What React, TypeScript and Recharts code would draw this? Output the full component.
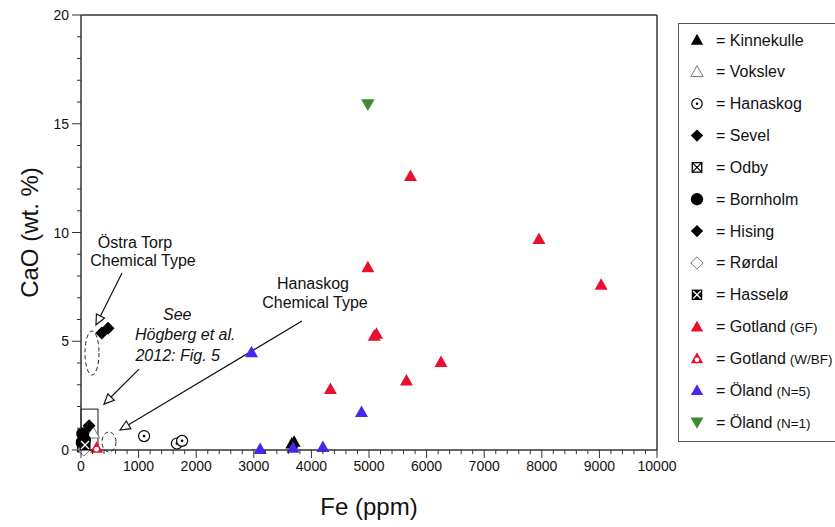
import React from 'react';
import {
  ScatterChart,
  Scatter,
  XAxis,
  YAxis,
  ReferenceArea,
  ReferenceLine,
  ReferenceDot,
  Label,
} from 'recharts';

// Fe (ppm), CaO (wt. %)
const kinnekulle: [number, number][] = [[3660, 0.3], [3700, 0.38]];
const vokslev: [number, number][] = [[210, 0.78]];
const hanaskog: [number, number][] = [[1095, 0.64], [1665, 0.3], [1755, 0.42]];
const sevel: [number, number][] = [[360, 5.38], [470, 5.6]];
const odby: [number, number][] = [[30, 0.15]];
const bornholm: [number, number][] = [[30, 0.75], [60, 0.45], [20, 0.35]];
const hising: [number, number][] = [[140, 1.12]];
const rordal: [number, number][] = [[50, 0.02]];
const hasselo: [number, number][] = [[70, 0.23]];
const gotlandGF: [number, number][] = [
  [5720, 12.6], [7950, 9.7], [9030, 7.6], [4980, 8.4], [5090, 5.25],
  [5130, 5.35], [6250, 4.05], [5650, 3.2], [4330, 2.8],
];
const gotlandWBF: [number, number][] = [[270, 0.1]];
const olandN5: [number, number][] = [
  [2960, 4.5], [4870, 1.75], [3110, 0.05], [3680, 0.1], [4200, 0.14],
];
const olandN1: [number, number][] = [[4980, 15.9]];

const xMajor = [0, 1000, 2000, 3000, 4000, 5000, 6000, 7000, 8000, 9000, 10000];
const yMajor = [0, 5, 10, 15, 20];
const xMinor = xMajor.slice(0, -1).flatMap((v) => [v, v + 200, v + 400, v + 600, v + 800]).concat([10000]);
const yMinor = yMajor.slice(0, -1).flatMap((v) => [v, v + 1, v + 2, v + 3, v + 4]).concat([20]);

type Kind =
  | 'tri' | 'triOpen' | 'triDown' | 'triHollow' | 'circDot' | 'diamond'
  | 'diamondOpen' | 'boxX' | 'boxXFill' | 'circle';

const RED = '#e8102c';
const BLUE = '#4a25f0';
const GREEN = '#3c8c2c';
const FONT = '"Liberation Sans", Arial, Helvetica, sans-serif';

const series: { name: string; sub?: string; data: [number, number][]; kind: Kind; color: string }[] = [
  { name: 'Kinnekulle', data: kinnekulle, kind: 'tri', color: '#000' },
  { name: 'Vokslev', data: vokslev, kind: 'triOpen', color: '#777' },
  { name: 'Hanaskog', data: hanaskog, kind: 'circDot', color: '#000' },
  { name: 'Sevel', data: sevel, kind: 'diamond', color: '#000' },
  { name: 'Odby', data: odby, kind: 'boxX', color: '#000' },
  { name: 'Bornholm', data: bornholm, kind: 'circle', color: '#000' },
  { name: 'Hising', data: hising, kind: 'diamond', color: '#000' },
  { name: 'Rørdal', data: rordal, kind: 'diamondOpen', color: '#777' },
  { name: 'Hasselø', data: hasselo, kind: 'boxXFill', color: '#000' },
  { name: 'Gotland', sub: '(GF)', data: gotlandGF, kind: 'tri', color: RED },
  { name: 'Gotland', sub: '(W/BF)', data: gotlandWBF, kind: 'triHollow', color: RED },
  { name: 'Öland', sub: '(N=5)', data: olandN5, kind: 'tri', color: BLUE },
  { name: 'Öland', sub: '(N=1)', data: olandN1, kind: 'triDown', color: GREEN },
];

function Marker({ kind, color, cx, cy, s = 1 }: { kind: Kind; color: string; cx: number; cy: number; s?: number }) {
  const a = 6.5 * s;
  const b = 5 * s;
  switch (kind) {
    case 'tri':
      return <polygon points={`${cx},${cy - a} ${cx - a},${cy + b} ${cx + a},${cy + b}`} fill={color} />;
    case 'triOpen':
      return (
        <polygon points={`${cx},${cy - a} ${cx - a},${cy + b} ${cx + a},${cy + b}`} fill="#fff" stroke={color} strokeWidth={1} />
      );
    case 'triHollow':
      return (
        <g>
          <polygon points={`${cx},${cy - a} ${cx - a},${cy + b} ${cx + a},${cy + b}`} fill={color} />
          <circle cx={cx} cy={cy + 1.3 * s} r={2.4 * s} fill="#fff" />
        </g>
      );
    case 'triDown':
      return <polygon points={`${cx - a * 1.05},${cy - b} ${cx + a * 1.05},${cy - b} ${cx},${cy + a * 1.05}`} fill={color} />;
    case 'circDot':
      return (
        <g>
          <circle cx={cx} cy={cy} r={5.5 * s} fill="#fff" stroke={color} strokeWidth={1.2} />
          <circle cx={cx} cy={cy} r={1.3 * s} fill={color} />
        </g>
      );
    case 'diamond':
      return <polygon points={`${cx},${cy - a} ${cx + a},${cy} ${cx},${cy + a} ${cx - a},${cy}`} fill={color} />;
    case 'diamondOpen':
      return (
        <polygon points={`${cx},${cy - a} ${cx + a},${cy} ${cx},${cy + a} ${cx - a},${cy}`} fill="#fff" stroke={color} strokeWidth={1} />
      );
    case 'boxX': {
      const h = 5 * s;
      return (
        <g stroke={color} strokeWidth={1.3} fill="#fff">
          <rect x={cx - h} y={cy - h} width={2 * h} height={2 * h} />
          <line x1={cx - h} y1={cy - h} x2={cx + h} y2={cy + h} />
          <line x1={cx + h} y1={cy - h} x2={cx - h} y2={cy + h} />
        </g>
      );
    }
    case 'boxXFill': {
      const h = 5.5 * s;
      return (
        <g>
          <rect x={cx - h} y={cy - h} width={2 * h} height={2 * h} fill={color} />
          <line x1={cx - h + 1.5} y1={cy - h + 1.5} x2={cx + h - 1.5} y2={cy + h - 1.5} stroke="#fff" strokeWidth={1.3} />
          <line x1={cx + h - 1.5} y1={cy - h + 1.5} x2={cx - h + 1.5} y2={cy + h - 1.5} stroke="#fff" strokeWidth={1.3} />
        </g>
      );
    }
    case 'circle':
    default:
      return <circle cx={cx} cy={cy} r={6.5 * s} fill={color} />;
  }
}

// annotation texts: anchor = centre of first line baseline (data units), dx per line in px
const notes = [
  { x: 1076, y: 9.29, italic: false, lineH: 18.5, lines: [{ t: 'Östra Torp', dx: -8 }, { t: 'Chemical Type', dx: 0 }] },
  { x: 1670, y: 6.0, italic: true, lineH: 20.5, lines: [{ t: 'See', dx: 0 }, { t: 'Högberg et al.', dx: 8 }, { t: '2012: Fig. 5', dx: 0.5 }] },
  { x: 4045, y: 7.4, italic: false, lineH: 19, lines: [{ t: 'Hanaskog', dx: -1 }, { t: 'Chemical Type', dx: 1 }] },
];

const arrows = [
  { from: { x: 712, y: 8.14 }, to: { x: 260, y: 5.75 } },
  { from: { x: 1007, y: 3.72 }, to: { x: 399, y: 2.11 } },
  { from: { x: 3837, y: 5.93 }, to: { x: 677, y: 0.92 } },
];

const ellipses = [
  { x: 191, y: 4.46, rx: 7, ry: 22 },
  { x: 486, y: 0.37, rx: 7, ry: 10 },
];

function Arrow(p: any) {
  const { x1, y1, x2, y2 } = p;
  const len = Math.hypot(x2 - x1, y2 - y1);
  const ux = (x2 - x1) / len;
  const uy = (y2 - y1) / len;
  const hl = 10;
  const hw = 4.5;
  const bx = x2 - ux * hl;
  const by = y2 - uy * hl;
  return (
    <g>
      <line x1={x1} y1={y1} x2={bx} y2={by} stroke="#111" strokeWidth={1.2} />
      <polygon
        points={`${x2},${y2} ${bx - uy * hw},${by + ux * hw} ${bx + uy * hw},${by - ux * hw}`}
        fill="#fff"
        stroke="#111"
        strokeWidth={1.2}
      />
    </g>
  );
}

function XTick(props: any) {
  const { x, y, payload } = props;
  const major = xMajor.includes(payload.value);
  return (
    <g>
      <line x1={x} y1={y} x2={x} y2={y + (major ? 8 : 4)} stroke="#333" strokeWidth={1} />
      {major && (
        <text x={x} y={y + 21} textAnchor="middle" fontSize={14} fontFamily={FONT} fill="#111">
          {payload.value}
        </text>
      )}
    </g>
  );
}

function YTick(props: any) {
  const { x, y, payload } = props;
  const major = yMajor.includes(payload.value);
  return (
    <g>
      <line x1={x} y1={y} x2={x - (major ? 9 : 4)} y2={y} stroke="#333" strokeWidth={1} />
      {major && (
        <text x={x - 12} y={y + 5} textAnchor="end" fontSize={14} fontFamily={FONT} fill="#111">
          {payload.value}
        </text>
      )}
    </g>
  );
}

function LegendBox() {
  return (
    <div
      style={{
        position: 'absolute',
        left: 678,
        top: 23,
        width: 170,
        height: 419,
        border: '1.5px solid #555',
        boxSizing: 'border-box',
        background: '#fff',
      }}
    >
      <svg width={165} height={415} style={{ display: 'block' }}>
        {series.map((s, i) => {
          const cy = 16 + i * 31.85;
          return (
            <g key={i}>
              <Marker kind={s.kind} color={s.color} cx={18} cy={cy} s={0.95} />
              <text x={37} y={cy + 5.5} fontSize={16} fontFamily={FONT} fill="#111">
                {`= ${s.name}`}
                {s.sub && <tspan fontSize={13.5} dx={4}>{s.sub}</tspan>}
              </text>
            </g>
          );
        })}
      </svg>
    </div>
  );
}

export default function App() {
  return (
    <div style={{ position: 'absolute', left: 0, top: 0, width: 835, height: 527, overflow: 'hidden', background: '#fff' }}>
      <ScatterChart width={835} height={527} margin={{ top: 15, right: 178, bottom: 0, left: 0 }}>
        <XAxis
          dataKey="fe"
          type="number"
          domain={[0, 10000]}
          ticks={xMinor}
          interval={0}
          tickSize={0}
          tickMargin={0}
          tickLine={false}
          tick={<XTick />}
          height={77}
          axisLine={{ stroke: '#333', strokeWidth: 1.5 }}
        >
          <Label
            content={(p: any) => (
              <text
                x={p.viewBox.x + p.viewBox.width / 2}
                y={515}
                textAnchor="middle"
                fontSize={24}
                fontFamily={FONT}
                fill="#111"
              >
                Fe (ppm)
              </text>
            )}
          />
        </XAxis>
        <YAxis
          dataKey="cao"
          type="number"
          domain={[0, 20]}
          ticks={yMinor}
          interval={0}
          tickSize={0}
          tickMargin={0}
          tickLine={false}
          tick={<YTick />}
          width={81}
          axisLine={{ stroke: '#333', strokeWidth: 1.5 }}
        >
          <Label
            content={(p: any) => {
              const cy = p.viewBox.y + p.viewBox.height / 2;
              return (
                <text
                  x={29}
                  y={cy}
                  transform={`rotate(-90 29 ${cy})`}
                  textAnchor="middle"
                  dominantBaseline="central"
                  fontSize={24}
                  fontFamily={FONT}
                  fill="#111"
                >
                  CaO (wt. %)
                </text>
              );
            }}
          />
        </YAxis>
        <ReferenceLine y={20} stroke="#333" strokeWidth={1.5} />
        <ReferenceLine x={10000} stroke="#333" strokeWidth={1.5} />
        <ReferenceArea x1={0} x2={295} y1={0} y2={1.88} fill="none" fillOpacity={0} stroke="#111" strokeWidth={1} />
        {ellipses.map((e, i) => (
          <ReferenceDot
            key={`e${i}`}
            x={e.x}
            y={e.y}
            r={1}
            shape={(p: any) => (
              <ellipse cx={p.cx} cy={p.cy} rx={e.rx} ry={e.ry} fill="none" stroke="#222" strokeWidth={1} strokeDasharray="4 3" />
            )}
          />
        ))}
        {arrows.map((a, i) => (
          <ReferenceLine key={`a${i}`} segment={[a.from, a.to]} shape={(p: any) => <Arrow {...p} />} />
        ))}
        {notes.map((n, i) => (
          <ReferenceDot
            key={`n${i}`}
            x={n.x}
            y={n.y}
            r={1}
            shape={(p: any) => (
              <g>
                {n.lines.map((l, j) => (
                  <text
                    key={j}
                    x={p.cx + l.dx}
                    y={p.cy + j * n.lineH}
                    textAnchor="middle"
                    fontSize={16}
                    fontStyle={n.italic ? 'italic' : 'normal'}
                    fontFamily={FONT}
                    fill="#111"
                  >
                    {l.t}
                  </text>
                ))}
              </g>
            )}
          />
        ))}
        {series.map((s, i) => (
          <Scatter
            key={i}
            name={s.name}
            data={s.data.map(([fe, cao]) => ({ fe, cao }))}
            isAnimationActive={false}
            shape={(p: any) => <Marker kind={s.kind} color={s.color} cx={p.cx} cy={p.cy} />}
          />
        ))}
      </ScatterChart>
      <LegendBox />
    </div>
  );
}
